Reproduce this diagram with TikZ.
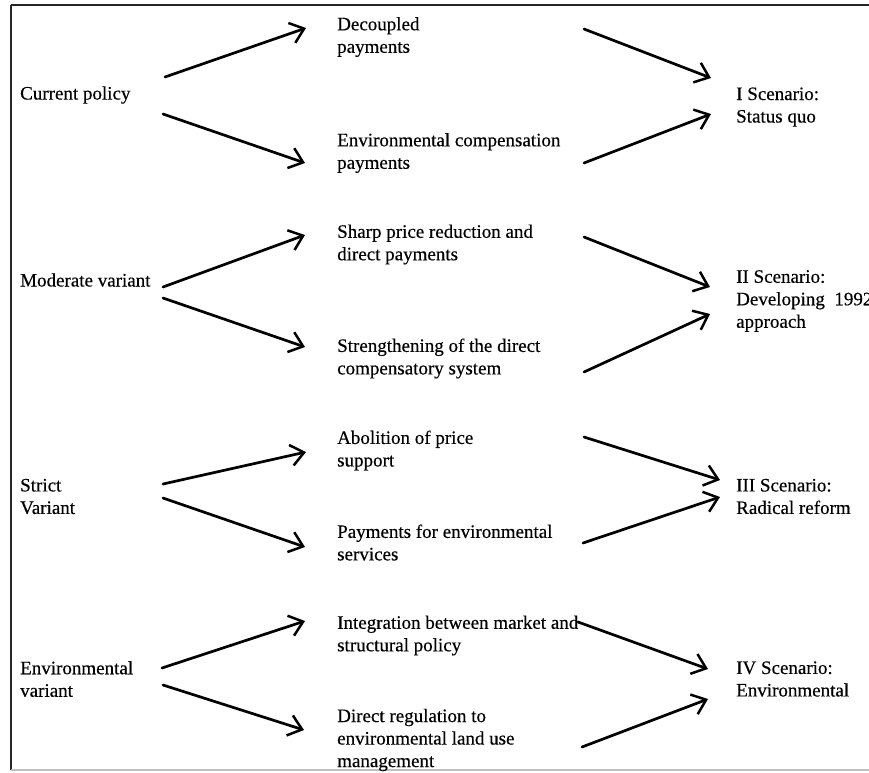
\documentclass[tikz,border=0pt]{standalone}
\usepackage{fontspec}
\setmainfont{Liberation Serif}[FakeBold=0.35]
\usetikzlibrary{arrows.meta}
\begin{document}
\begin{tikzpicture}[x=1pt,y=-1pt,
  lbl/.style={anchor=west,inner sep=0pt,align=left,font=\fontsize{19}{22.5}\selectfont},
  arr/.style={line width=2.7pt,line cap=round,-{Straight Barb[length=13pt,width=21pt,line width=2.5pt]}}]
\useasboundingbox (0,0) rectangle (869,772);
\fill[white] (0,0) rectangle (869,772);
% frame
\draw[line width=1.6pt,black!85] (11,5) -- (869,5);
\draw[line width=1.4pt,black!85] (11,5) -- (11,770);
\draw[line width=1.2pt,black!25] (11,770) -- (869,770);
% left column
\node[lbl] (cur) at (20,95) {Current policy};
\node[lbl] (mod) at (20,280) {Moderate variant};
\node[lbl] (str) at (20,496.5) {Strict\\Variant};
\node[lbl] (env) at (20,679) {Environmental\\variant};
% middle column
\node[lbl] (dec) at (337,37) {Decoupled\\payments};
\node[lbl] (ecp) at (337,153) {Environmental compensation\\payments};
\node[lbl] (spr) at (337,244.5) {Sharp price reduction and\\direct payments};
\node[lbl] (sdc) at (337,358.5) {Strengthening of the direct\\compensatory system};
\node[lbl] (aps) at (337,450.5) {Abolition of price\\support};
\node[lbl] (pes) at (337,542.5) {Payments for environmental\\services};
\node[lbl] (ibm) at (337,635.5) {Integration between market and\\structural policy};
\node[lbl] (drl) at (337,740) {Direct regulation to\\environmental land use\\management};
% right column
\node[lbl] (s1) at (736,107) {I Scenario:\\Status quo};
\node[lbl] (s2) at (736,301) {II Scenario:\\Developing~~1992\\approach};
\node[lbl] (s3) at (736,496.5) {III Scenario:\\Radical reform};
\node[lbl] (s4) at (736,679) {IV Scenario:\\Environmental};
% group 1
\draw[arr] ([shift={(145,-18)}]cur.west) -- ([shift={(-31,-9)}]dec.west);
\draw[arr] ([shift={(143,19)}]cur.west) -- ([shift={(-32,10)}]ecp.west);
\draw[arr] ([shift={(247,-8)}]dec.west) -- ([shift={(-25,-29)}]s1.west);
\draw[arr] ([shift={(247,10)}]ecp.west) -- ([shift={(-25,7)}]s1.west);
% group 2
\draw[arr] ([shift={(143,7)}]mod.west) -- ([shift={(-32,-9.5)}]spr.west);
\draw[arr] ([shift={(143,18)}]mod.west) -- ([shift={(-32,-11.5)}]sdc.west);
\draw[arr] ([shift={(247,-7.5)}]spr.west) -- ([shift={(-26,-14)}]s2.west);
\draw[arr] ([shift={(247,13.5)}]sdc.west) -- ([shift={(-26,13)}]s2.west);
% group 3
\draw[arr] ([shift={(143,-12.5)}]str.west) -- ([shift={(-31,1.5)}]aps.west);
\draw[arr] ([shift={(143,1.5)}]str.west) -- ([shift={(-32,4.5)}]pes.west);
\draw[arr] ([shift={(247,-13.5)}]aps.west) -- ([shift={(-16,-16.5)}]s3.west);
\draw[arr] ([shift={(246,0.5)}]pes.west) -- ([shift={(-16,0.5)}]s3.west);
% group 4
\draw[arr] ([shift={(142,-11)}]env.west) -- ([shift={(-32,-14.5)}]ibm.west);
\draw[arr] ([shift={(143,6)}]env.west) -- ([shift={(-33,-10)}]drl.west);
\draw[arr] ([shift={(241,-13.5)}]ibm.west) -- ([shift={(-28,-10)}]s4.west);
\draw[arr] ([shift={(245,7)}]drl.west) -- ([shift={(-28,20)}]s4.west);
\end{tikzpicture}
\end{document}
